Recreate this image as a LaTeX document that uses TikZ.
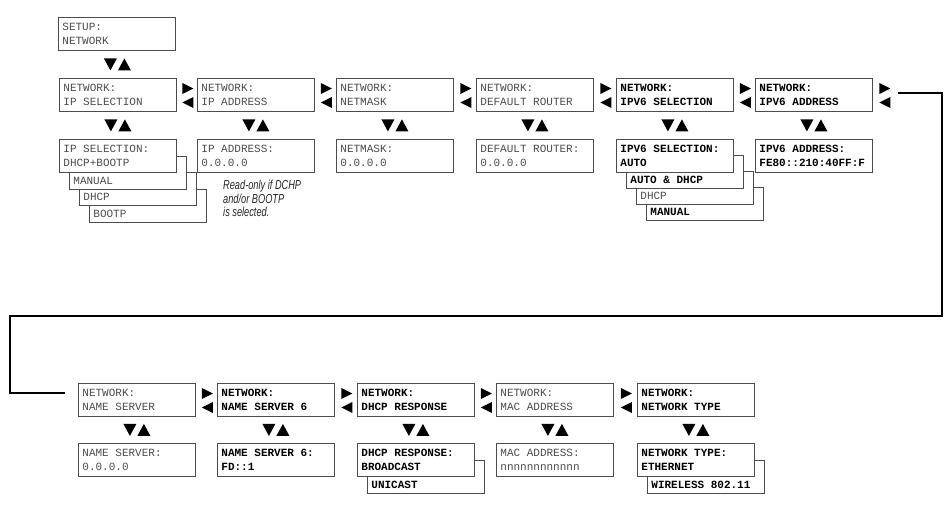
\documentclass[tikz,border=0pt]{standalone}
\usepackage{fontspec}
\setmonofont{Liberation Mono}
\newfontfamily\notefont{Liberation Sans}[FakeStretch=0.71]
\usetikzlibrary{calc}

\tikzset{
  lcd/.style={draw=black!70, line width=0.8pt, fill=white, anchor=north west,
    minimum width=117pt, minimum height=33pt, text width=109pt, inner sep=4pt,
    align=flush left, text=black!70, font=\fontsize{11}{14}\selectfont\ttfamily},
  lcdb/.style={lcd, text=black, font=\fontsize{11}{14}\selectfont\ttfamily\bfseries},
  layer/.style={text height=24.5pt, text depth=0.5pt},
  note/.style={anchor=north west, inner sep=0pt, align=flush left, text=black!85,
    font=\notefont\itshape\fontsize{13}{13.5}\selectfont},
  wrapline/.style={draw=black, line width=1.6pt},
  updown/.pic={
    \fill[black] (-13.5,-6) -- (-0.5,-6) -- (-7,6) -- cycle;
    \fill[black] (0.5,6) -- (13.5,6) -- (7,-6) -- cycle;
  },
  leftright/.pic={
    \fill[black] (-4.5,5) -- (-4.5,16) -- (6.5,10.5) -- cycle;
    \fill[black] (6.5,19) -- (6.5,30) -- (-4.5,24.5) -- cycle;
  }
}

\begin{document}
\begin{tikzpicture}[x=1pt,y=-1pt]
  \useasboundingbox (0,0) rectangle (952,506);

  % upper menu row
  \node[lcd] (setup) at (58,17) {SETUP:\\NETWORK};
  \node[lcd] (ipsel) at (59,78) {NETWORK:\\IP SELECTION};
  \node[lcd] (ipaddr) at (197,78) {NETWORK:\\IP ADDRESS};
  \node[lcd] (netmask) at (336,78) {NETWORK:\\NETMASK};
  \node[lcd] (router) at (476,78) {NETWORK:\\DEFAULT ROUTER};
  \node[lcdb] (vsel) at (616,78) {NETWORK:\\IPV6 SELECTION};
  \node[lcdb] (vaddr) at (755,78) {NETWORK:\\IPV6 ADDRESS};

  % upper values
  \foreach \i/\t in {3/BOOTP, 2/DHCP, 1/MANUAL}
    \node[lcd, layer] (ipsel\i) at ({59+10*\i},{139+16.5*\i}) {\t};
  \node[lcd] (ipselv) at (59,139) {IP SELECTION:\\DHCP+BOOTP};
  \node[lcd] (ipaddrv) at (197,139) {IP ADDRESS:\\0.0.0.0};
  \node[lcd] (netmaskv) at (336,139) {NETMASK:\\0.0.0.0};
  \node[lcd] (routerv) at (476,139) {DEFAULT ROUTER:\\0.0.0.0};
  \foreach \i/\t/\s in {3/MANUAL/lcdb, 2/DHCP/lcd, 1/AUTO \& DHCP/lcdb}
    \node[\s, layer] (vsel\i) at ({616+10*\i},{139+16*\i}) {\t};
  \node[lcdb] (vselv) at (616,139) {IPV6 SELECTION:\\AUTO};
  \node[lcdb] (vaddrv) at (755,139) {IPV6 ADDRESS:\\FE80::210:40FF:F};
  \node[note] (ronote) at (223,180) {Read-only if DCHP\\and/or BOOTP\\is selected.};

  % lower menu row
  \node[lcd] (ns) at (78,383) {NETWORK:\\NAME SERVER};
  \node[lcdb] (ns6) at (217,383) {NETWORK:\\NAME SERVER 6};
  \node[lcdb] (dhcpr) at (357,383) {NETWORK:\\DHCP RESPONSE};
  \node[lcd] (mac) at (496,383) {NETWORK:\\MAC ADDRESS};
  \node[lcdb] (ntype) at (637,383) {NETWORK:\\NETWORK TYPE};

  % lower values
  \node[lcd] (nsv) at (78,443) {NAME SERVER:\\0.0.0.0};
  \node[lcdb] (ns6v) at (217,443) {NAME SERVER 6:\\FD::1};
  \node[lcdb, layer] (dhcpr1) at (367,459.5) {UNICAST};
  \node[lcdb] (dhcprv) at (357,443) {DHCP RESPONSE:\\BROADCAST};
  \node[lcd] (macv) at (496,443) {MAC ADDRESS:\\nnnnnnnnnnnn};
  \node[lcdb, layer] (ntype1) at (647,459.5) {WIRELESS 802.11};
  \node[lcdb] (ntypev) at (637,443) {NETWORK TYPE:\\ETHERNET};

  % key arrows
  \foreach \a/\b in {setup/ipsel, ipsel/ipselv, ipaddr/ipaddrv, netmask/netmaskv,
      router/routerv, vsel/vselv, vaddr/vaddrv, ns/nsv, ns6/ns6v, dhcpr/dhcprv,
      mac/macv, ntype/ntypev}
    \path ($(\a.south)!.5!(\b.north)$) pic {updown};
  \foreach \a/\b in {ipsel/ipaddr, ipaddr/netmask, netmask/router, router/vsel,
      vsel/vaddr, ns/ns6, ns6/dhcpr, dhcpr/mac, mac/ntype}
    \path ($(\a.north east)!.5!(\b.north west)$) pic {leftright};
  \path (vaddr.north east) ++(11,0) pic {leftright};

  % wrap to second row
  \coordinate (wrapin) at ($(vaddr.north east)+(25,15)$);
  \coordinate (wrapout) at ($(ns.north west)+(-13,10)$);
  \draw[wrapline] (wrapin) -- ++(44,0) |- (10,316) |- (wrapout);
\end{tikzpicture}
\end{document}
